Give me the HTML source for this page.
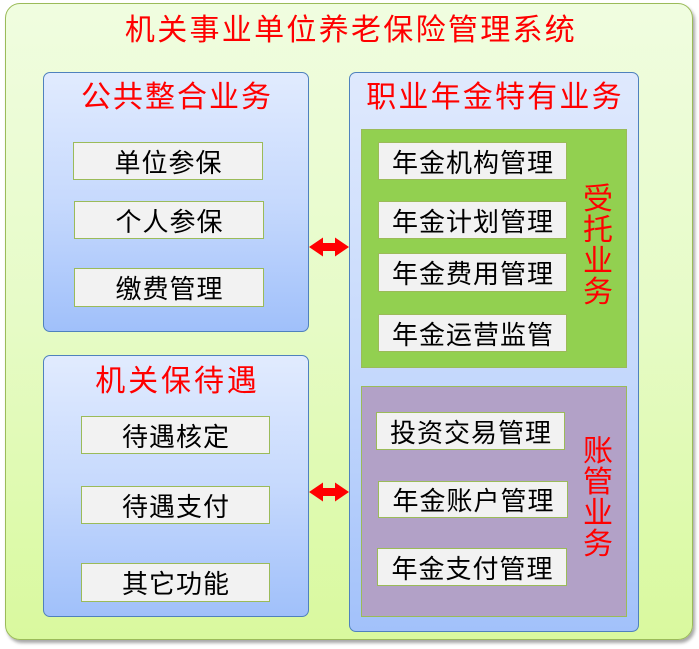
<!DOCTYPE html>
<html>
<head>
<meta charset="utf-8">
<style>
  html,body{margin:0;padding:0;}
  body{width:699px;height:649px;position:relative;background:#ffffff;overflow:hidden;
    font-family:"Liberation Sans","Noto Sans CJK SC",sans-serif;}
  .abs{position:absolute;box-sizing:border-box;}
  .outer{left:5px;top:3px;width:688px;height:637px;border:1px solid #9bbb59;border-radius:15px;
    background:linear-gradient(to bottom,#f0fde0 0%,#e6fbc6 50%,#d9f99e 100%);
    box-shadow:2px 3px 3px rgba(0,0,0,0.35);}
  .blue{border:1px solid #4f81bd;border-radius:7px;
    background:linear-gradient(to bottom,#e1ebfe 0%,#c6d9fd 50%,#a0c0fa 100%);}
  .green{background:#92d050;border:1px solid #9bbb59;}
  .purple{background:#b2a1c7;border:1px solid #9bbb59;}
  .item{background:#f2f2f2;border:1.5px solid #9bbb59;display:flex;align-items:center;justify-content:center;
    font-size:26px;letter-spacing:1px;color:#000;padding-top:3px;padding-left:1px;line-height:1;}
  .title{color:#ff0000;font-size:30px;line-height:30px;text-align:center;white-space:nowrap;}
  .vert{color:#ff0000;font-size:30px;line-height:31px;text-align:center;width:30px;}
</style>
</head>
<body>
  <div class="abs outer"></div>

  <div class="abs title" style="left:0;width:702px;top:16px;letter-spacing:2.3px;">机关事业单位养老保险管理系统</div>

  <!-- left top -->
  <div class="abs blue" style="left:43px;top:72px;width:266px;height:260px;"></div>
  <div class="abs title" style="left:43px;width:268px;top:83px;letter-spacing:2px;">公共整合业务</div>
  <div class="abs item" style="left:73px;top:142px;width:190px;height:38px;">单位参保</div>
  <div class="abs item" style="left:74px;top:201px;width:190px;height:38px;">个人参保</div>
  <div class="abs item" style="left:74px;top:268px;width:190px;height:39px;">缴费管理</div>

  <!-- left bottom -->
  <div class="abs blue" style="left:43px;top:355px;width:266px;height:262px;"></div>
  <div class="abs title" style="left:43px;width:269px;top:367px;letter-spacing:2.9px;">机关保待遇</div>
  <div class="abs item" style="left:81px;top:416px;width:189px;height:38px;">待遇核定</div>
  <div class="abs item" style="left:81px;top:486px;width:189px;height:38px;">待遇支付</div>
  <div class="abs item" style="left:81px;top:563px;width:189px;height:39px;">其它功能</div>

  <!-- right -->
  <div class="abs blue" style="left:349px;top:72px;width:290px;height:560px;
    background:linear-gradient(to bottom,#dfe9fd 0%,#c4d8fc 55%,#a2c1fa 100%);"></div>
  <div class="abs title" style="left:349px;width:292px;top:83px;letter-spacing:2.2px;">职业年金特有业务</div>

  <div class="abs green" style="left:361px;top:129px;width:266px;height:239px;"></div>
  <div class="abs item" style="left:378px;top:142px;width:189px;height:38px;">年金机构管理</div>
  <div class="abs item" style="left:378px;top:201px;width:189px;height:38px;">年金计划管理</div>
  <div class="abs item" style="left:378px;top:253px;width:189px;height:39px;">年金费用管理</div>
  <div class="abs item" style="left:378px;top:314px;width:189px;height:38px;">年金运营监管</div>
  <div class="abs vert" style="left:583px;top:184px;">受<br>托<br>业<br>务</div>

  <div class="abs purple" style="left:361px;top:386px;width:266px;height:231px;"></div>
  <div class="abs item" style="left:376px;top:412px;width:189px;height:38px;">投资交易管理</div>
  <div class="abs item" style="left:378px;top:481px;width:190px;height:37px;">年金账户管理</div>
  <div class="abs item" style="left:377px;top:548px;width:190px;height:38px;">年金支付管理</div>
  <div class="abs vert" style="left:583px;top:436px;">账<br>管<br>业<br>务</div>

  <!-- arrows -->
  <svg class="abs" style="left:0;top:0;" width="699" height="649" xmlns="http://www.w3.org/2000/svg">
    <polygon fill="#ff0000" points="309,247 323,237.5 323,243 335,243 335,237.5 349,247 335,256.5 335,251 323,251 323,256.5"/>
    <polygon fill="#ff0000" points="309,492 323,482.5 323,488 335,488 335,482.5 349,492 335,501.5 335,496 323,496 323,501.5"/>
  </svg>
</body>
</html>
